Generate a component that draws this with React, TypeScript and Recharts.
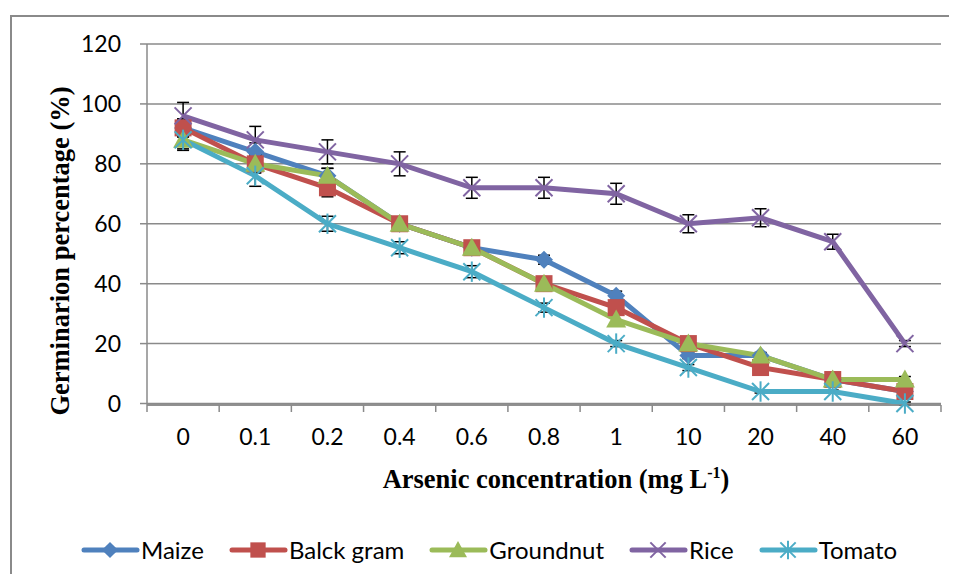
import React from 'react';
import {
  LineChart,
  Line,
  XAxis,
  YAxis,
  CartesianGrid,
  ErrorBar,
  Label,
} from 'recharts';

const categories = ['0', '0.1', '0.2', '0.4', '0.6', '0.8', '1', '10', '20', '40', '60'];

const maize = [92, 84, 76, 60, 52, 48, 36, 16, 16, 8, 4];
const blackGram = [92, 80, 72, 60, 52, 40, 32, 20, 12, 8, 4];
const groundnut = [88, 80, 76, 60, 52, 40, 28, 20, 16, 8, 8];
const rice = [96, 88, 84, 80, 72, 72, 70, 60, 62, 54, 20];
const tomato = [88, 76, 60, 52, 44, 32, 20, 12, 4, 4, 0];

const maizeErr = [3, 3, 2.5, 2, 1.5, 1.5, 1.5, 1, 1, 1, 1];
const blackGramErr = [3, 3, 3, 2, 1.5, 1.5, 1.5, 1, 1, 1, 1];
const groundnutErr = [3.5, 3, 2.5, 2, 1.5, 1.5, 1.5, 1, 1, 1, 1];
const riceErr = [4.5, 4.5, 4, 4, 3.5, 3.5, 3.5, 3, 3, 2.5, 1];
const tomatoErr = [3, 3.5, 2.5, 2, 2, 1.5, 1, 1, 0.5, 0.5, 0.5];

const yTicks = [0, 20, 40, 60, 80, 100, 120];

const data = categories.map((c, i) => ({
  c,
  maize: maize[i],
  maizeErr: maizeErr[i],
  blackGram: blackGram[i],
  blackGramErr: blackGramErr[i],
  groundnut: groundnut[i],
  groundnutErr: groundnutErr[i],
  rice: rice[i],
  riceErr: riceErr[i],
  tomato: tomato[i],
  tomatoErr: tomatoErr[i],
}));

const COLORS = {
  maize: '#4F81BD',
  blackGram: '#C0504D',
  groundnut: '#9BBB59',
  rice: '#8064A2',
  tomato: '#4BACC6',
};

type Shape = 'diamond' | 'square' | 'triangle' | 'x' | 'star';

function Marker({ cx, cy, shape, color, scale = 1 }: { cx: number; cy: number; shape: Shape; color: string; scale?: number }) {
  const s = scale;
  if (shape === 'diamond') {
    return (
      <polygon
        points={`${cx},${cy - 9 * s} ${cx + 9 * s},${cy} ${cx},${cy + 9 * s} ${cx - 9 * s},${cy}`}
        fill={color}
      />
    );
  }
  if (shape === 'square') {
    return <rect x={cx - 8.5 * s} y={cy - 8.5 * s} width={17 * s} height={17 * s} fill={color} />;
  }
  if (shape === 'triangle') {
    return (
      <polygon
        points={`${cx},${cy - 10 * s} ${cx + 10 * s},${cy + 8 * s} ${cx - 10 * s},${cy + 8 * s}`}
        fill={color}
      />
    );
  }
  const r = 8.5 * s;
  return (
    <g stroke={color} strokeWidth={2}>
      <line x1={cx - r} y1={cy - r} x2={cx + r} y2={cy + r} />
      <line x1={cx - r} y1={cy + r} x2={cx + r} y2={cy - r} />
      {shape === 'star' && <line x1={cx} y1={cy - r * 1.2} x2={cx} y2={cy + r * 1.2} />}
    </g>
  );
}

const makeDot = (shape: Shape, color: string) => (props: any) => {
  const { cx, cy, index } = props;
  if (cx == null || cy == null) return <g key={index} />;
  return (
    <g key={`${shape}-${index}`}>
      <Marker cx={cx} cy={cy} shape={shape} color={color} />
    </g>
  );
};

const legendItems: { name: string; shape: Shape; color: string }[] = [
  { name: 'Maize', shape: 'diamond', color: COLORS.maize },
  { name: 'Balck gram', shape: 'square', color: COLORS.blackGram },
  { name: 'Groundnut', shape: 'triangle', color: COLORS.groundnut },
  { name: 'Rice', shape: 'x', color: COLORS.rice },
  { name: 'Tomato', shape: 'star', color: COLORS.tomato },
];

function LegendBox() {
  return (
    <div
      style={{
        position: 'absolute',
        top: 536,
        left: 80,
        display: 'flex',
        alignItems: 'center',
        fontFamily: 'Lato',
        fontSize: 24,
        lineHeight: '28px',
        color: '#000',
      }}
    >
      {legendItems.map((it) => (
        <div key={it.name} style={{ display: 'flex', alignItems: 'center', marginRight: 24 }}>
          <svg width={60} height={28}>
            <line x1={4} y1={14} x2={57} y2={14} stroke={it.color} strokeWidth={5} strokeLinecap="round" />
            <Marker cx={30} cy={14} shape={it.shape} color={it.color} scale={0.9} />
          </svg>
          <span style={{ marginLeft: 1 }}>{it.name}</span>
        </div>
      ))}
    </div>
  );
}

const BAND = 794 / 11;

function XTick(props: any) {
  const { x, y, payload, index } = props;
  return (
    <g>
      <line x1={x - BAND / 2} y1={y} x2={x - BAND / 2} y2={y + 7} stroke="#8a8a8a" strokeWidth={1.5} />
      {index === categories.length - 1 && (
        <line x1={x + BAND / 2} y1={y} x2={x + BAND / 2} y2={y + 7} stroke="#8a8a8a" strokeWidth={1.5} />
      )}
      <text x={x} y={y + 40} textAnchor="middle" fontFamily="Lato" fontSize={23} fill="#000">
        {payload.value}
      </text>
    </g>
  );
}

export default function App() {
  return (
    <div style={{ position: 'relative', width: 957, height: 582, margin: -8, overflow: 'hidden', background: '#fff' }}>
      <div
        style={{
          position: 'absolute',
          left: 10,
          top: 15,
          width: 1000,
          height: 700,
          border: '2px solid #8a8a8a',
          boxSizing: 'border-box',
        }}
      />
      <div style={{ position: 'absolute', left: 0, top: 0 }}>
        <LineChart width={957} height={582} data={data} margin={{ top: 44, right: 16, left: 0, bottom: 147 }}>
          <CartesianGrid vertical={false} stroke="#8a8a8a" strokeWidth={1.5} />
          <XAxis
            dataKey="c"
            stroke="#8a8a8a"
            strokeWidth={1.5}
            tickLine={false}
            tickSize={0}
            tickMargin={0}
            height={30}
            padding={{ left: BAND / 2, right: BAND / 2 }}
            tick={<XTick />}
            interval={0}
          >
            <Label
              content={() => (
                <text x={556} y={488} textAnchor="middle" fontFamily="Liberation Serif" fontWeight="bold" fontSize={26.5} fill="#000">
                  Arsenic concentration (mg L
                  <tspan dy={-10} fontSize={16}>-1</tspan>
                  <tspan dy={10}>)</tspan>
                </text>
              )}
            />
          </XAxis>
          <YAxis
            width={147}
            domain={[0, 120]}
            ticks={yTicks}
            stroke="#8a8a8a"
            strokeWidth={1.5}
            tickSize={7}
            tickMargin={19}
            tick={{ fill: '#000', fontFamily: 'Lato', fontSize: 23 }}
          >
            <Label
              content={() => (
                <text
                  x={60}
                  y={251}
                  transform="rotate(-90 60 251)"
                  textAnchor="middle"
                  dominantBaseline="central"
                  fontFamily="Liberation Serif"
                  fontWeight="bold"
                  fontSize={26.5}
                  fill="#000"
                >
                  Germinarion percentage (%)
                </text>
              )}
            />
          </YAxis>
          <Line dataKey="maize" name="Maize" stroke={COLORS.maize} strokeWidth={5} dot={makeDot('diamond', COLORS.maize)} isAnimationActive={false}>
            <ErrorBar dataKey="maizeErr" width={6} stroke="#000" strokeWidth={1.5} direction="y" />
          </Line>
          <Line dataKey="blackGram" name="Balck gram" stroke={COLORS.blackGram} strokeWidth={5} dot={makeDot('square', COLORS.blackGram)} isAnimationActive={false}>
            <ErrorBar dataKey="blackGramErr" width={6} stroke="#000" strokeWidth={1.5} direction="y" />
          </Line>
          <Line dataKey="groundnut" name="Groundnut" stroke={COLORS.groundnut} strokeWidth={5} dot={makeDot('triangle', COLORS.groundnut)} isAnimationActive={false}>
            <ErrorBar dataKey="groundnutErr" width={6} stroke="#000" strokeWidth={1.5} direction="y" />
          </Line>
          <Line dataKey="rice" name="Rice" stroke={COLORS.rice} strokeWidth={5} dot={makeDot('x', COLORS.rice)} isAnimationActive={false}>
            <ErrorBar dataKey="riceErr" width={6} stroke="#000" strokeWidth={1.5} direction="y" />
          </Line>
          <Line dataKey="tomato" name="Tomato" stroke={COLORS.tomato} strokeWidth={5} dot={makeDot('star', COLORS.tomato)} isAnimationActive={false}>
            <ErrorBar dataKey="tomatoErr" width={6} stroke="#000" strokeWidth={1.5} direction="y" />
          </Line>
        </LineChart>
      </div>
      <LegendBox />
    </div>
  );
}
